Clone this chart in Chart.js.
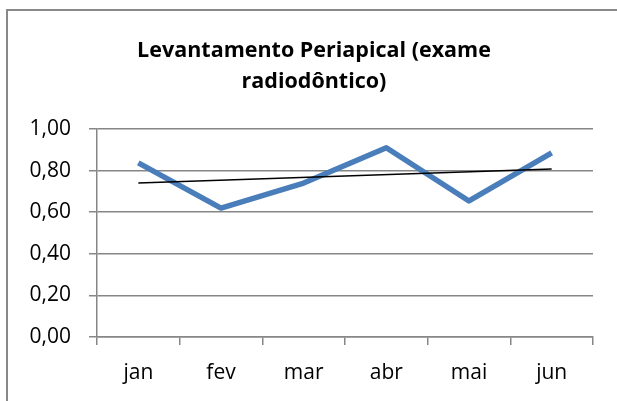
<!DOCTYPE html>
<html>
<head>
<meta charset="utf-8">
<script src="https://cdn.jsdelivr.net/npm/chart.js@4/dist/chart.umd.min.js"></script>
<style>
  html, body { margin: 0; padding: 0; background: #fff; overflow: hidden; }
  #wrap { position: relative; width: 617px; height: 401px; }
  #frame { position: absolute; left: 6px; top: 9px; width: 620px; height: 400px; border: 2px solid #898989; box-sizing: border-box; }
  canvas { position: absolute; left: 0; top: 0; }
</style>
</head>
<body>
<div id="wrap">
  <div id="frame"></div>
  <canvas id="chart" width="617" height="401"></canvas>
</div>
<script>
// --- Chart data ---
const months = ["jan", "fev", "mar", "abr", "mai", "jun"];
const exameValues = [0.837, 0.62, 0.74, 0.91, 0.654, 0.885];
const trendValues = [0.74, null, null, null, null, 0.808]; // linear trendline, ends only
const titleLines = ["Levantamento Periapical (exame", "radiodôntico)"];

const gridColor = "#868686";
const fontFamily = "'Open Sans', sans-serif";

// Title is drawn centred on the outer frame, so a small plugin handles it
const titlePlugin = {
    id: "frameTitle",
    afterDraw(chart) {
        const ctx = chart.ctx;
        ctx.save();
        ctx.fillStyle = "#000";
        ctx.font = "bold 21.5px " + fontFamily;
        ctx.textAlign = "center";
        ctx.textBaseline = "alphabetic";
        ctx.fillText(titleLines[0], 314, 57);
        ctx.fillText(titleLines[1], 314, 88);
        ctx.restore();
    }
};

new Chart(document.getElementById("chart").getContext("2d"), {
    type: "line",
    data: {
        labels: months,
        datasets: [
            {
                label: "Linear",
                data: trendValues,
                borderColor: "#000",
                borderWidth: 1.5,
                pointRadius: 0,
                spanGaps: true,
                order: 0
            },
            {
                label: "Exame",
                data: exameValues,
                borderColor: "#4A7EBB",
                borderWidth: 5.5,
                pointRadius: 0,
                tension: 0,
                borderJoinStyle: "round",
                order: 1
            }
        ]
    },
    options: {
        responsive: false,
        animation: false,
        layout: { padding: { left: 0, right: 24, top: 129, bottom: 0 } },
        plugins: {
            legend: { display: false },
            tooltip: { enabled: false },
            title: { display: false }
        },
        scales: {
            x: {
                offset: true,
                grid: { offset: true, drawOnChartArea: false, color: gridColor, lineWidth: 1.5, tickLength: 8 },
                border: { color: gridColor, width: 1.5 },
                ticks: { color: "#000", padding: 15, font: { family: fontFamily, size: 21 } },
                afterFit(scale) { scale.height = 64; }
            },
            y: {
                min: 0,
                max: 1,
                grid: { color: gridColor, lineWidth: 1.5, tickLength: 8 },
                border: { color: gridColor, width: 1.5 },
                ticks: {
                    stepSize: 0.2,
                    color: "#000",
                    padding: 18,
                    font: { family: fontFamily, size: 21 },
                    callback: v => v.toFixed(2).replace(".", ",")
                },
                afterFit(scale) { scale.width = 97; }
            }
        }
    },
    plugins: [titlePlugin]
});
</script>
</body>
</html>
